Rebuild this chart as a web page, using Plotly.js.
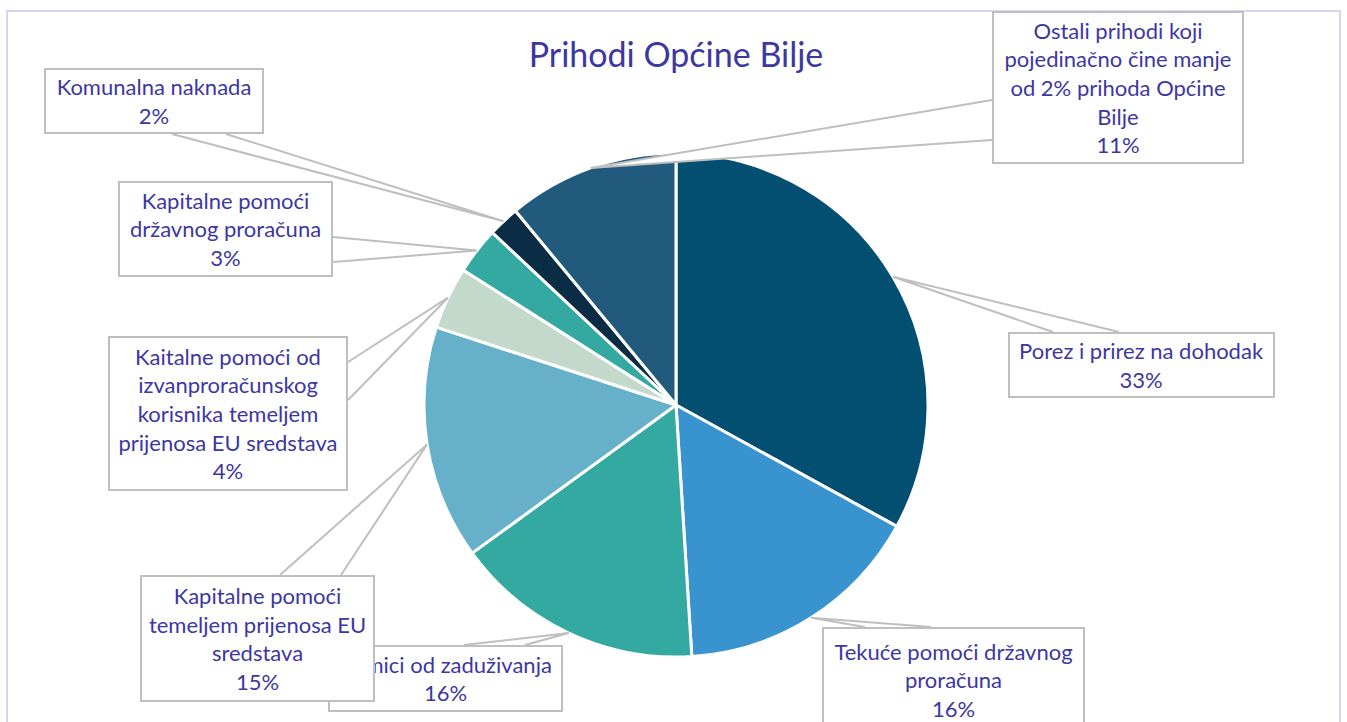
<!DOCTYPE html>
<html>
<head>
<meta charset="utf-8">
<script src="https://cdn.plot.ly/plotly-3.0.1.min.js"></script>
<style>
  body { margin: 0; background: #ffffff; }
  #graph { width: 1347px; height: 722px; }
</style>
</head>
<body>
<div id="graph"></div>
<script>
// data (percent of total revenue)
var labels = [
  'Porez i prirez na dohodak',
  'Tekuće pomoći državnog proračuna',
  'Primici od zaduživanja',
  'Kapitalne pomoći temeljem prijenosa EU sredstava',
  'Kaitalne pomoći od izvanproračunskog korisnika temeljem prijenosa EU sredstava',
  'Kapitalne pomoći državnog proračuna',
  'Komunalna naknada',
  'Ostali prihodi koji pojedinačno čine manje od 2% prihoda Općine Bilje'
];
var values = [33, 16, 16, 15, 4, 3, 2, 11];
var colors = ['#024F72', '#3893CF', '#34A9A1', '#66B1C9', '#C2D9CB', '#34A9A1', '#0A2D45', '#225A7E'];

var W = 1347, H = 722;
var cx = 676, cy = 405, R = 252;
var textColor = '#3D37A2';
var lineColor = '#BFBFBF';

// label boxes: centre, size, wrap width, and two base points of the callout pointer (pixels)
var boxes = [
  {x: 1141, y: 365, w: 267, h: 66, wrap: 26, b: [[1053, 332], [1119, 332]]},
  {x: 953, y: 680, w: 263, h: 106, wrap: 22, b: [[865, 627], [931, 627]]},
  {x: 445, y: 678, w: 235, h: 67, wrap: 24, b: [[464, 645], [525, 645]]},
  {x: 257, y: 638, w: 235, h: 127, wrap: 21, b: [[280, 575], [341, 575]]},
  {x: 228, y: 413, w: 240, h: 155, wrap: 22, b: [[348, 362], [348, 400]]},
  {x: 225, y: 229, w: 215, h: 96, wrap: 18, b: [[333, 237], [333, 262]]},
  {x: 154, y: 101, w: 220, h: 66, wrap: 20, b: [[172, 134], [226, 134]]},
  {x: 1118, y: 88, w: 252, h: 153, wrap: 22, b: [[992, 100], [992, 140]]}
];

function px(x) { return x / W; }
function py(y) { return 1 - y / H; }

function wrap(text, max) {
  var words = text.split(' ');
  var lines = [];
  var cur = '';
  words.forEach(function(w) {
    if (cur === '') cur = w;
    else if ((cur + ' ' + w).length <= max) cur += ' ' + w;
    else { lines.push(cur); cur = w; }
  });
  if (cur !== '') lines.push(cur);
  return lines.join('<br>');
}

var total = values.reduce(function(a, b) { return a + b; }, 0);

var shapes = [];
var annotations = [];

// outer chart frame
shapes.push({
  type: 'rect', xref: 'paper', yref: 'paper', layer: 'below',
  x0: px(7), x1: px(1340), y0: py(760), y1: py(11),
  line: {color: '#D8D4F2', width: 2}, fillcolor: 'rgba(0,0,0,0)'
});

var cum = 0;
for (var i = 0; i < values.length; i++) {
  var mid = (cum + values[i] / 2) / total * 2 * Math.PI;
  cum += values[i];
  var tx = cx + R * Math.sin(mid);
  var ty = cy - R * Math.cos(mid);
  var bx = boxes[i];

  shapes.push({
    type: 'path', xref: 'paper', yref: 'paper', layer: 'above',
    path: 'M ' + px(bx.b[0][0]) + ',' + py(bx.b[0][1]) +
          ' L ' + px(tx) + ',' + py(ty) +
          ' L ' + px(bx.b[1][0]) + ',' + py(bx.b[1][1]),
    line: {color: lineColor, width: 2},
    fillcolor: '#ffffff'
  });

  annotations.push({
    xref: 'paper', yref: 'paper',
    x: px(bx.x), y: py(bx.y),
    xanchor: 'center', yanchor: 'middle',
    width: bx.w - 4, height: bx.h - 4,
    text: wrap(labels[i], bx.wrap) + '<br>' + Math.round(values[i] / total * 100) + '%',
    showarrow: false, align: 'center', valign: 'middle',
    bgcolor: '#ffffff', bordercolor: lineColor, borderwidth: 2, borderpad: 0,
    font: {family: 'Lato, "Noto Sans", sans-serif', size: 22, color: textColor}
  });
}

var trace = {
  type: 'pie',
  labels: labels,
  values: values,
  sort: false,
  direction: 'clockwise',
  rotation: 0,
  textinfo: 'none',
  hoverinfo: 'label+percent',
  marker: {colors: colors, line: {color: '#ffffff', width: 3}},
  domain: {x: [px(cx - R), px(cx + R)], y: [py(cy + R), py(cy - R)]},
  showlegend: false
};

var layout = {
  width: W,
  height: H,
  margin: {l: 0, r: 0, t: 0, b: 0},
  paper_bgcolor: '#ffffff',
  title: {
    text: 'Prihodi Općine Bilje',
    x: px(676), y: py(55), xanchor: 'center', yanchor: 'middle',
    font: {family: 'Lato, "Noto Sans", sans-serif', size: 34, color: textColor}
  },
  showlegend: false,
  shapes: shapes,
  annotations: annotations
};

Plotly.newPlot('graph', [trace], layout, {displayModeBar: false, staticPlot: true});
</script>
</body>
</html>
